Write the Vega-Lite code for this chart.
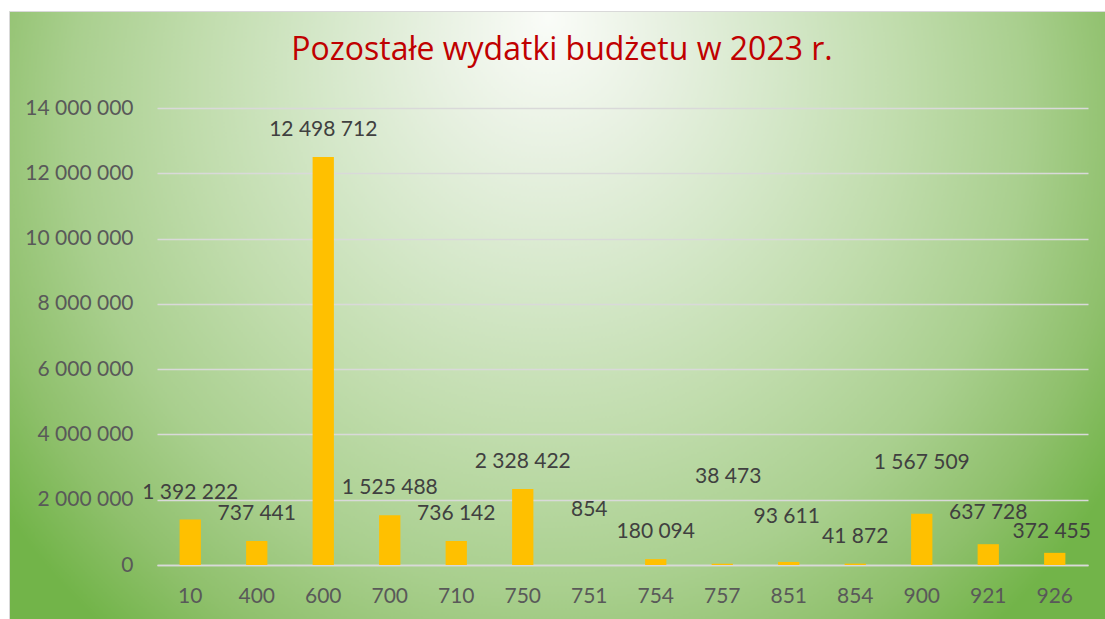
{
  "$schema": "https://vega.github.io/schema/vega-lite/v6.json",
  "width": 1096,
  "height": 608,
  "autosize": {"type": "none"},
  "padding": {"left": 9, "top": 11, "right": 0, "bottom": 0},
  "background": "#ffffff",
  "config": {
    "locale": {"number": {"decimal": ",", "thousands": " ", "grouping": [3], "currency": ["", " zł"]}},
    "font": "Lato",
    "view": {
      "stroke": "#d9d9d9",
      "strokeWidth": 1,
      "fill": {
        "gradient": "radial",
        "x1": 0.4918, "y1": 0.2272, "r1": 0,
        "x2": 0.4918, "y2": 0.3449, "r2": 0.5976,
        "stops": [
          {"offset": 0, "color": "#fafcf8"},
          {"offset": 0.17, "color": "#e8f1e2"},
          {"offset": 0.355, "color": "#d4e7c8"},
          {"offset": 0.54, "color": "#c0dcac"},
          {"offset": 0.73, "color": "#a9cf8e"},
          {"offset": 0.88, "color": "#8fc06c"},
          {"offset": 1, "color": "#72b449"}
        ]
      }
    }
  },
  "title": {
    "text": "Pozostałe wydatki budżetu w 2023 r.",
    "color": "#C00000",
    "fontSize": 32,
    "font": "Open Sans",
    "fontWeight": "normal",
    "anchor": "middle",
    "frame": "group",
    "offset": -81,
    "baseline": "alphabetic",
    "dx": 5
  },
  "data": {
    "values": [
      {"dzial": "10", "kwota": 1392222},
      {"dzial": "400", "kwota": 737441},
      {"dzial": "600", "kwota": 12498712},
      {"dzial": "700", "kwota": 1525488},
      {"dzial": "710", "kwota": 736142},
      {"dzial": "750", "kwota": 2328422},
      {"dzial": "751", "kwota": 854},
      {"dzial": "754", "kwota": 180094},
      {"dzial": "757", "kwota": 38473},
      {"dzial": "851", "kwota": 93611},
      {"dzial": "854", "kwota": 41872},
      {"dzial": "900", "kwota": 1567509},
      {"dzial": "921", "kwota": 637728},
      {"dzial": "926", "kwota": 372455}
    ]
  },
  "encoding": {
    "x": {
      "field": "dzial",
      "type": "nominal",
      "sort": null,
      "scale": {"range": [148, 1079], "paddingInner": 0.68, "paddingOuter": 0.34},
      "axis": {
        "title": null,
        "orient": "bottom",
        "offset": -54,
        "labelAngle": 0,
        "labelFontSize": 21,
        "labelColor": "#595959",
        "labelPadding": 20,
        "ticks": false,
        "tickSize": 0,
        "domainColor": "#d9d9d9",
        "domainWidth": 1.5,
        "grid": false
      }
    },
    "y": {
      "field": "kwota",
      "type": "quantitative",
      "scale": {"domain": [0, 14000000], "range": [554, 97], "nice": false},
      "axis": {
        "title": null,
        "orient": "left",
        "offset": -148,
        "values": [0, 2000000, 4000000, 6000000, 8000000, 10000000, 12000000, 14000000],
        "labelExpr": "replace(format(datum.value, ',.0f'), regexp(',', 'g'), ' ')",
        "labelFontSize": 21,
        "labelColor": "#595959",
        "labelPadding": 24,
        "ticks": false,
        "tickSize": 0,
        "domain": false,
        "grid": true,
        "gridColor": "#d9d9d9",
        "gridWidth": 1.5
      }
    }
  },
  "layer": [
    {"mark": {"type": "bar", "color": "#FFC000"}},
    {
      "transform": [{"filter": "indexof(['751','757','851','900','921','926'], datum.dzial) < 0"}],
      "mark": {"type": "text", "baseline": "middle", "dy": -27, "fontSize": 21, "color": "#404040"},
      "encoding": {"text": {"field": "kwota", "type": "quantitative", "format": ","}}
    },
    {
      "transform": [{"filter": {"field": "dzial", "equal": "751"}}],
      "mark": {"type": "text", "baseline": "middle", "dy": -55, "fontSize": 21, "color": "#404040"},
      "encoding": {"text": {"field": "kwota", "type": "quantitative", "format": ","}}
    },
    {
      "transform": [{"filter": {"field": "dzial", "equal": "757"}}],
      "mark": {"type": "text", "baseline": "middle", "dy": -87, "dx": 6, "fontSize": 21, "color": "#404040"},
      "encoding": {"text": {"field": "kwota", "type": "quantitative", "format": ","}}
    },
    {
      "transform": [{"filter": {"field": "dzial", "equal": "851"}}],
      "mark": {"type": "text", "baseline": "middle", "dy": -45, "dx": -2, "fontSize": 21, "color": "#404040"},
      "encoding": {"text": {"field": "kwota", "type": "quantitative", "format": ","}}
    },
    {
      "transform": [{"filter": {"field": "dzial", "equal": "900"}}],
      "mark": {"type": "text", "baseline": "middle", "dy": -51, "fontSize": 21, "color": "#404040"},
      "encoding": {"text": {"field": "kwota", "type": "quantitative", "format": ","}}
    },
    {
      "transform": [{"filter": {"field": "dzial", "equal": "921"}}],
      "mark": {"type": "text", "baseline": "middle", "dy": -31, "fontSize": 21, "color": "#404040"},
      "encoding": {"text": {"field": "kwota", "type": "quantitative", "format": ","}}
    },
    {
      "transform": [{"filter": {"field": "dzial", "equal": "926"}}],
      "mark": {"type": "text", "baseline": "middle", "dy": -21, "dx": -3, "fontSize": 21, "color": "#404040"},
      "encoding": {"text": {"field": "kwota", "type": "quantitative", "format": ","}}
    }
  ]
}
